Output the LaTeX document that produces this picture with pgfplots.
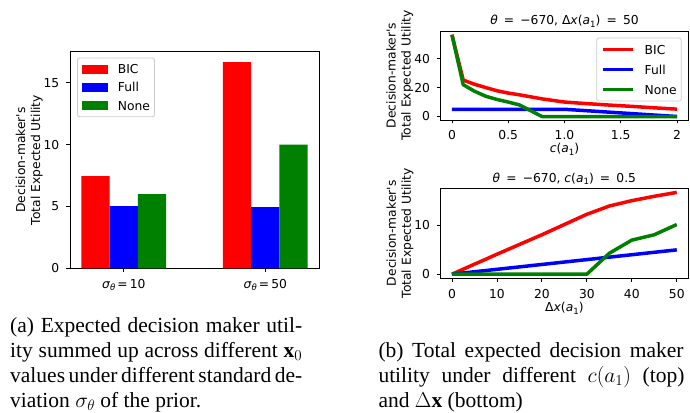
\documentclass[border=0pt]{standalone}
\usepackage{fix-cm}
\usepackage{fontspec}
\setmainfont{Liberation Serif}
\newfontfamily\dvs{DejaVu Sans}
\usepackage{pgfplots}
\pgfplotsset{compat=1.18}

\definecolor{mplred}{RGB}{255,0,0}
\definecolor{mplblue}{RGB}{0,0,255}
\definecolor{mplgreen}{RGB}{0,128,0}
\definecolor{legedge}{RGB}{204,204,204}

\newcommand\cf{\dvs\fontsize{12.3}{15}\selectfont}
\newcommand\sub[1]{\raisebox{-0.22em}{\fontsize{8.6}{9}\selectfont#1}}
\newcommand\capf{\fontsize{21.5}{25}\selectfont}
\newcommand\ylab{Decision-maker\textquotesingle s\\Total Expected Utility}
\newcommand\eq{\enspace=\enspace}

\pgfplotsset{
  mpl/.style={
    scale only axis,
    anchor=south west,
    font=\cf,
    axis line style={black, line width=0.8pt},
    tick align=outside,
    tick pos=left,
    major tick length=3.5pt,
    tick style={black, line width=0.8pt},
    /pgf/number format/assume math mode=true,
    tick label style={font=\cf},
    yticklabel style={anchor=east, inner sep=0pt, xshift=-7pt},
    xticklabel style={anchor=north, inner sep=0pt, yshift=-7pt},
    every axis y label/.style={at={(axis description cs:-0.164,0.5)}, rotate=90, anchor=center, align=center, font=\cf},
    every axis x label/.style={at={(axis description cs:0.5,-0.326)}, anchor=center, font=\cf},
    every axis title/.style={at={(axis description cs:0.5,1)}, anchor=center, yshift=9.5pt, font=\cf},
  },
  legbox/.style={legend cell align=left,
    legend style={draw=legedge, rounded corners=2pt, line width=0.8pt, fill=white,
      row sep=9.3pt, column sep=10pt,
      nodes={inner sep=0pt, text height=9pt, text depth=0pt, font=\cf}}},
  lineplot/.style={line width=3.5pt, line join=round, no markers,
    legend image code/.code={\draw[##1, sharp corners] (0pt,0pt) -- (30pt,0pt);}},
}

\begin{document}
\begin{tikzpicture}
\path[use as bounding box] (0pt,0pt) rectangle (690pt,412pt);

% (a) bars
\begin{axis}[mpl, at={(70pt,143.7pt)}, width=249pt, height=216.6pt,
  xmin=-0.38, xmax=1.38, ymin=0, ymax=17.52,
  ybar=0pt, bar width=0.2,
  xtick={0,1},
  xticklabels={{\textit{σ}\sub{\textit{θ}}\,=\,10},{\textit{σ}\sub{\textit{θ}}\,=\,50}},
  ytick={0,5,10,15},
  ylabel={\ylab},
  legbox,
  legend style={at={(0,1)}, anchor=north west, xshift=7pt, yshift=-6pt,
    inner xsep=4.5pt, inner ysep=6.5pt},
  legend image code/.code={\fill[#1, sharp corners] (0pt,-4.5pt) rectangle (26pt,4.5pt);},
]
\addplot[fill=mplred, draw=none] coordinates {(0,7.45) (1,16.68)};
\addlegendentry{BIC}
\addplot[fill=mplblue, draw=none] coordinates {(0,5.02) (1,4.94)};
\addlegendentry{Full}
\addplot[fill=mplgreen, draw=none] coordinates {(0,6.0) (1,10.0)};
\addlegendentry{None}
\end{axis}

% (b) top: varying c(a_1)
\begin{axis}[mpl, at={(440.7pt,292pt)}, width=247.6pt, height=89pt,
  xmin=-0.1, xmax=2.1, ymin=-2.4, ymax=59.1,
  xtick={0,0.5,1,1.5,2}, xticklabels={0,0.5,1.0,1.5,2},
  ytick={0,20,40},
  ylabel={\ylab},
  every axis y label/.append style={at={(axis description cs:-0.165,0.5)}},
  xlabel={\textit{c}(\textit{a}\sub{1})},
  title={\textit{θ}\eq−670, Δ\textit{x}(\textit{a}\sub{1})\eq50},
  legbox,
  legend style={at={(1,1)}, anchor=north east, xshift=-6.6pt, yshift=-6.7pt,
    inner xsep=4.5pt, inner ysep=7pt, row sep=11pt},
]
\addplot[lineplot, mplred] coordinates {
  (0,56.5) (0.1,25.2) (0.2,22.3) (0.3,20.0) (0.4,17.8) (0.5,16.2) (0.6,15.0)
  (0.7,13.6) (0.8,12.2) (0.9,11.1) (1.0,10.0) (1.2,8.9) (1.4,7.9) (1.6,7.0)
  (1.8,6.0) (2.0,5.1)};
\addlegendentry{BIC}
\addplot[lineplot, mplblue] coordinates {
  (0,5) (0.2,5) (0.4,5) (0.6,5) (0.8,5) (1.0,5) (1.2,4) (1.4,3) (1.6,2)
  (1.8,1) (2.0,0)};
\addlegendentry{Full}
\addplot[lineplot, mplgreen] coordinates {
  (0,56.5) (0.1,22) (0.2,17.5) (0.3,14) (0.4,11.8) (0.5,10) (0.6,8) (0.7,4)
  (0.8,0) (1.0,0) (1.2,0) (1.4,0) (1.6,0) (1.8,0) (2.0,0)};
\addlegendentry{None}
\end{axis}

% (b) bottom: varying Delta x(a_1)
\begin{axis}[mpl, at={(440.7pt,133.7pt)}, width=247.3pt, height=90pt,
  xmin=-2.5, xmax=52.5, ymin=-0.84, ymax=17.64,
  xtick={0,10,20,30,40,50},
  ytick={0,10},
  ylabel={\ylab},
  every axis y label/.append style={at={(axis description cs:-0.165,0.5)}},
  xlabel={Δ\textit{x}(\textit{a}\sub{1})},
  every axis x label/.append style={at={(axis description cs:0.5,-0.33)}},
  title={\textit{θ}\eq−670, \textit{c}(\textit{a}\sub{1})\eq0.5},
]
\addplot[lineplot, mplred] coordinates {
  (0,0) (5,2.05) (10,4.1) (15,6.1) (20,8.1) (25,10.2) (30,12.3) (35,14.0)
  (40,15.1) (45,16.0) (50,16.8)};
\addplot[lineplot, mplblue] coordinates {
  (0,0) (5,0.5) (10,1.0) (15,1.5) (20,2.0) (25,2.5) (30,3.0) (35,3.5)
  (40,4.0) (45,4.5) (50,5.0)};
\addplot[lineplot, mplgreen] coordinates {
  (0,0) (5,0) (10,0) (15,0) (20,0) (25,0) (30,0) (35,4.3) (40,7.0)
  (45,8.1) (50,10.2)};
\end{axis}

% sub-captions
\begin{scope}[every node/.style={anchor=base west, inner sep=0pt, font=\capf}]
\node at (10pt,79.7pt) {\makebox[292pt][s]{(a) Expected decision maker util-}};
\node at (10pt,54.7pt) {\makebox[292pt][s]{ity summed up across different $\mathbf{x}_0$}};
\node at (10pt,29.7pt) {\makebox[292pt][s]{values under different standard de-}};
\node at (10pt,4.7pt) {viation $\sigma_\theta$ of the prior.};
\node at (378.3pt,54.5pt) {\makebox[305pt][s]{(b) Total expected decision maker}};
\node at (378.3pt,29.5pt) {\makebox[306pt][s]{utility under different $c(a_1)$ (top)}};
\node at (378.3pt,4.5pt) {and $\Delta\mathbf{x}$ (bottom)};
\end{scope}
\end{tikzpicture}
\end{document}
